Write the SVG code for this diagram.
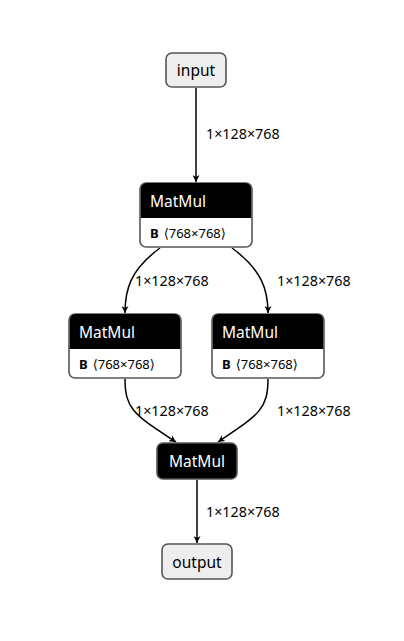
<svg xmlns="http://www.w3.org/2000/svg" width="404" height="641" viewBox="0 0 404 641">
<style>
text{font-family:"Noto Sans","Open Sans","DejaVu Sans",sans-serif;}
.io rect{fill:#eeeeee;stroke:#555;stroke-width:1.6;}
.io text{font-size:15.5px;fill:#000;}
.hdr{fill:#000;}
.body{fill:#fff;stroke:#555;stroke-width:1.6;}
.ht{font-size:15.5px;fill:#fff;}
.at{font-size:13px;fill:#000;}
.ab{font-weight:bold;}
.edge path{fill:none;stroke:#000;stroke-width:1.5;}
.lbl{font-size:14.3px;fill:#000;}
</style>
<defs>
<marker id="arr" viewBox="0 0 10 10" refX="10" refY="5" markerWidth="7" markerHeight="7" markerUnits="userSpaceOnUse" orient="auto">
<path d="M0,0 L10,5 L0,10 L3,5 z" fill="#000"/>
</marker>
</defs>
<g id="edges" class="edge">
<path d="M196,88 L196,182" marker-end="url(#arr)"/>
<path d="M160,248 C130,270 125,290 125,313" marker-end="url(#arr)"/>
<path d="M232,248 C262,270 268,290 268,313" marker-end="url(#arr)"/>
<path d="M125,379 C125,410 135,415 176,442" marker-end="url(#arr)"/>
<path d="M268,379 C268,410 258,415 218,442" marker-end="url(#arr)"/>
<path d="M197,480 L197,543" marker-end="url(#arr)"/>
</g>
<g id="edge-labels">
<text class="lbl" x="206" y="139">1×128×768</text>
<text class="lbl" x="135" y="286">1×128×768</text>
<text class="lbl" x="277" y="286">1×128×768</text>
<text class="lbl" x="135" y="416">1×128×768</text>
<text class="lbl" x="277" y="416">1×128×768</text>
<text class="lbl" x="206" y="517">1×128×768</text>
</g>
<g id="input" class="io">
<rect x="166" y="53" width="60" height="34" rx="6"/>
<text x="196" y="76" text-anchor="middle">input</text>
</g>
<g id="matmul1">
<rect class="body" x="140" y="183" width="112" height="64" rx="6"/>
<path class="hdr" d="M140.8,218 V189 a6,6 0 0 1 6,-6 H245.2 a6,6 0 0 1 6,6 V218 Z"/>
<text class="ht" x="150" y="207">MatMul</text>
<text class="at" x="150" y="238"><tspan class="ab">B</tspan><tspan dx="5">⟨768×768⟩</tspan></text>
</g>
<g id="matmul2">
<rect class="body" x="69" y="314" width="112" height="64" rx="6"/>
<path class="hdr" d="M69.8,349 V320 a6,6 0 0 1 6,-6 H174.2 a6,6 0 0 1 6,6 V349 Z"/>
<text class="ht" x="79" y="338">MatMul</text>
<text class="at" x="79" y="369"><tspan class="ab">B</tspan><tspan dx="5">⟨768×768⟩</tspan></text>
</g>
<g id="matmul3">
<rect class="body" x="212" y="314" width="112" height="64" rx="6"/>
<path class="hdr" d="M212.8,349 V320 a6,6 0 0 1 6,-6 H317.2 a6,6 0 0 1 6,6 V349 Z"/>
<text class="ht" x="222" y="338">MatMul</text>
<text class="at" x="222" y="369"><tspan class="ab">B</tspan><tspan dx="5">⟨768×768⟩</tspan></text>
</g>
<g id="matmul4">
<rect x="157" y="443" width="80" height="36" rx="6" fill="#000" stroke="#555" stroke-width="1.6"/>
<text class="ht" x="197" y="467" text-anchor="middle">MatMul</text>
</g>
<g id="output" class="io">
<rect x="162" y="544" width="70" height="35" rx="6"/>
<text x="197" y="568" text-anchor="middle">output</text>
</g>
</svg>
